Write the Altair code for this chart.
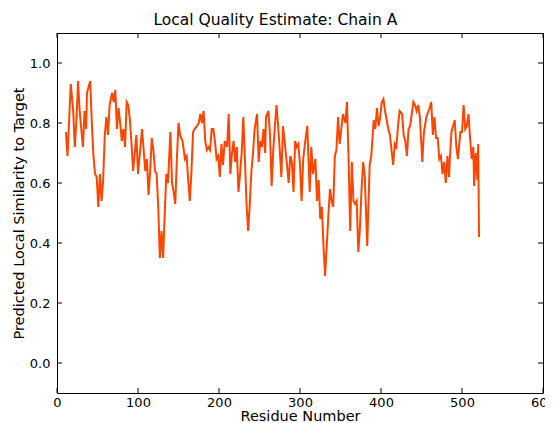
import altair as alt
import pandas as pd

residues = [11, 13, 17, 20, 22, 24, 26, 28, 32, 34, 36, 37, 41, 43, 45, 47, 49, 51, 53, 55,
            57, 59, 61, 63, 65, 68, 70, 72, 74, 76, 78, 80, 82, 84, 86, 88, 90, 92, 94, 96,
            98, 100, 102, 105, 107, 109, 111, 113, 115, 117, 119, 121, 123, 125, 127, 129, 131, 133, 135, 137,
            140, 142, 144, 146, 148, 150, 152, 155, 158, 160, 162, 164, 166, 168, 170, 173, 175, 177, 179, 181,
            183, 185, 187, 189, 191, 193, 195, 197, 199, 201, 203, 205, 207, 210, 212, 214, 216, 218, 220, 222,
            224, 226, 228, 230, 232, 234, 236, 238, 240, 242, 244, 247, 249, 251, 253, 255, 257, 258, 261, 263,
            265, 267, 269, 271, 273, 275, 277, 279, 281, 284, 286, 288, 290, 292, 294, 296, 298, 300, 302, 304,
            306, 309, 312, 314, 316, 319, 321, 323, 325, 327, 329, 331, 333, 335, 337, 339, 341, 343, 345, 347,
            349, 351, 353, 356, 358, 360, 362, 364, 366, 368, 370, 372, 374, 376, 378, 380, 383, 386, 388, 391,
            393, 395, 397, 399, 401, 403, 405, 407, 409, 411, 413, 415, 417, 419, 421, 423, 426, 428, 430, 432,
            434, 436, 438, 440, 442, 444, 446, 448, 451, 453, 456, 460, 462, 464, 466, 468, 470, 472, 474, 476,
            478, 480, 482, 484, 485, 487, 489, 491, 493, 495, 498, 500, 502, 504, 506, 508, 510, 512, 514, 515,
            517, 519, 520, 521]

scores = [0.77, 0.69, 0.93, 0.84, 0.72, 0.81, 0.94, 0.84, 0.72, 0.84, 0.78, 0.90, 0.94, 0.80, 0.69, 0.63, 0.62, 0.52, 0.63, 0.54,
          0.61, 0.76, 0.82, 0.76, 0.86, 0.90, 0.87, 0.91, 0.78, 0.85, 0.80, 0.74, 0.78, 0.72, 0.87, 0.86, 0.81, 0.73, 0.64, 0.70,
          0.76, 0.63, 0.69, 0.78, 0.71, 0.64, 0.68, 0.56, 0.64, 0.75, 0.71, 0.64, 0.63, 0.52, 0.35, 0.44, 0.35, 0.50, 0.63, 0.60,
          0.77, 0.60, 0.57, 0.53, 0.68, 0.80, 0.76, 0.74, 0.68, 0.69, 0.61, 0.54, 0.64, 0.77, 0.78, 0.79, 0.80, 0.83, 0.80, 0.84,
          0.74, 0.71, 0.72, 0.71, 0.78, 0.78, 0.74, 0.68, 0.69, 0.62, 0.73, 0.66, 0.74, 0.72, 0.83, 0.63, 0.70, 0.74, 0.67, 0.72,
          0.57, 0.63, 0.70, 0.82, 0.68, 0.53, 0.44, 0.53, 0.64, 0.70, 0.78, 0.83, 0.67, 0.74, 0.72, 0.78, 0.70, 0.82, 0.84, 0.76,
          0.59, 0.71, 0.79, 0.86, 0.79, 0.71, 0.62, 0.79, 0.74, 0.66, 0.60, 0.69, 0.67, 0.57, 0.74, 0.72, 0.73, 0.66, 0.54, 0.68,
          0.73, 0.79, 0.57, 0.72, 0.63, 0.68, 0.54, 0.61, 0.48, 0.52, 0.39, 0.29, 0.39, 0.49, 0.58, 0.54, 0.52, 0.69, 0.71, 0.82,
          0.73, 0.78, 0.83, 0.80, 0.87, 0.68, 0.44, 0.67, 0.54, 0.53, 0.54, 0.37, 0.45, 0.58, 0.67, 0.62, 0.39, 0.66, 0.69, 0.81,
          0.78, 0.85, 0.79, 0.82, 0.87, 0.88, 0.84, 0.81, 0.78, 0.76, 0.71, 0.66, 0.73, 0.72, 0.79, 0.84, 0.83, 0.76, 0.74, 0.69,
          0.78, 0.79, 0.83, 0.87, 0.86, 0.84, 0.86, 0.82, 0.67, 0.77, 0.82, 0.85, 0.87, 0.76, 0.82, 0.75, 0.75, 0.68, 0.69, 0.63,
          0.67, 0.60, 0.69, 0.62, 0.68, 0.77, 0.79, 0.81, 0.72, 0.68, 0.77, 0.77, 0.86, 0.78, 0.79, 0.83, 0.75, 0.68, 0.72, 0.59,
          0.70, 0.61, 0.73, 0.42]

x_ticks = [0, 100, 200, 300, 400, 500, 600]
y_ticks = [0.0, 0.2, 0.4, 0.6, 0.8, 1.0]

W, H = 486, 360
FONT = "DejaVu Sans"

df = pd.DataFrame({"res": residues, "score": scores})
dx = pd.DataFrame({"res": x_ticks})
dy = pd.DataFrame({"score": y_ticks})

xscale = alt.Scale(domain=[0, 600], nice=False, zero=False)
yscale = alt.Scale(domain=[-0.1, 1.1], nice=False, zero=False)
xaxis = alt.Axis(title="Residue Number", values=x_ticks, format="d", labelFlush=False)
yaxis = alt.Axis(title="Predicted Local Similarity to Target", values=y_ticks, format=".1f", labelFlush=False)

line = alt.Chart(df).mark_line(color="#ff4500", strokeWidth=2, clip=True).encode(
    x=alt.X("res:Q", scale=xscale, axis=xaxis),
    y=alt.Y("score:Q", scale=yscale, axis=yaxis),
)

tick_len = 5
yl = alt.Chart(dy).mark_rule(color="black", strokeWidth=1).encode(
    y=alt.Y("score:Q", scale=yscale, axis=yaxis), x=alt.value(0), x2=alt.value(tick_len))
yr = alt.Chart(dy).mark_rule(color="black", strokeWidth=1).encode(
    y=alt.Y("score:Q", scale=yscale, axis=yaxis), x=alt.value(W - tick_len), x2=alt.value(W))
xb = alt.Chart(dx).mark_rule(color="black", strokeWidth=1).encode(
    x=alt.X("res:Q", scale=xscale, axis=xaxis), y=alt.value(H - tick_len), y2=alt.value(H))
xt = alt.Chart(dx).mark_rule(color="black", strokeWidth=1).encode(
    x=alt.X("res:Q", scale=xscale, axis=xaxis), y=alt.value(0), y2=alt.value(tick_len))

chart = alt.layer(line, yl, yr, xb, xt).properties(
    width=W, height=H,
    background="white",
    title=alt.TitleParams("Local Quality Estimate: Chain A", font=FONT, fontSize=15.5,
                          fontWeight="normal", color="black", anchor="middle",
                          offset=4, frame="bounds", dx=-8),
    autosize=alt.AutoSizeParams(type="none"),
    padding={"left": 49, "top": 25, "right": 2, "bottom": 40},
).configure_view(
    stroke="black", strokeWidth=1
).configure_axis(
    domain=False, ticks=False, grid=False,
    labelFont=FONT, labelFontSize=13, labelColor="black",
    titleFont=FONT, titleFontSize=14.5, titleFontWeight="normal", titleColor="black",
).configure_axisX(
    labelPadding=3, titlePadding=0
).configure_axisY(
    labelPadding=7, titlePadding=3
)

chart.save("out.html", embed_options={"renderer": "svg", "actions": False})
